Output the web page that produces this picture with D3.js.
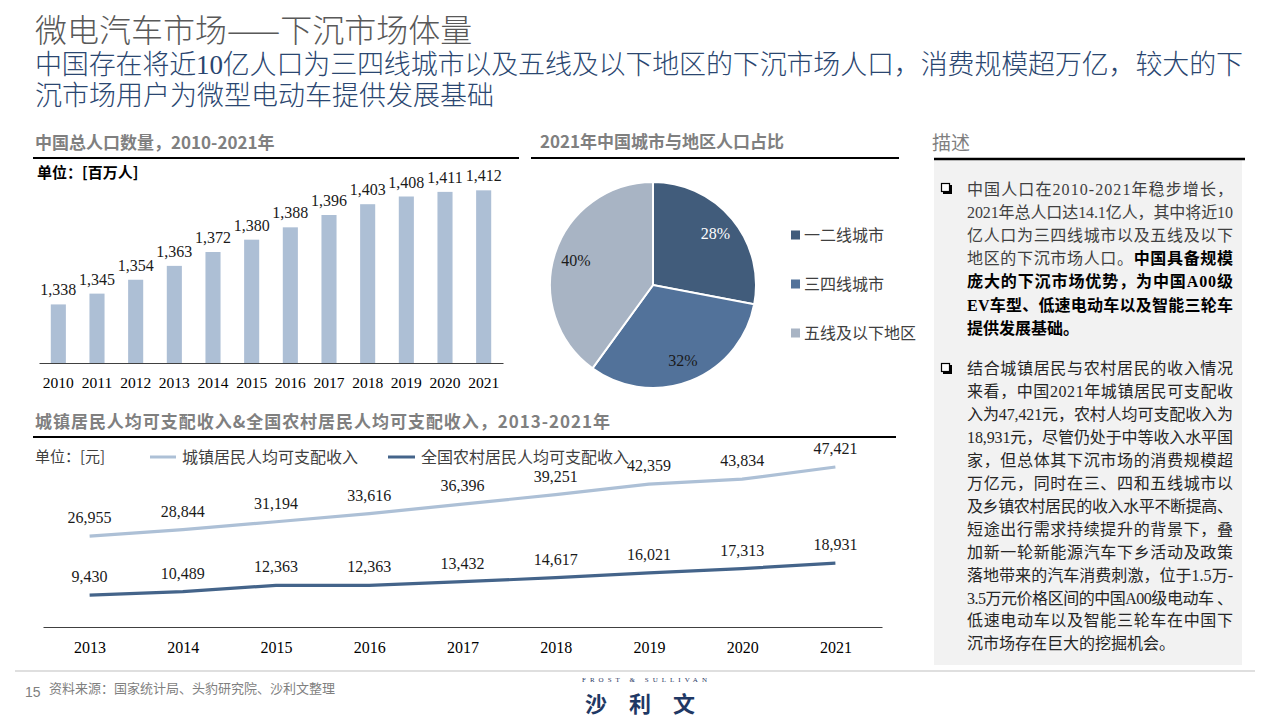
<!DOCTYPE html>
<html><head><meta charset="utf-8">
<script src="https://cdn.jsdelivr.net/npm/d3@7"></script>
<style>
body{margin:0;background:#fff;}
svg{display:block;}
</style></head><body>
<svg id="c" width="1280" height="720"></svg>
<script>
// ---------- data ----------
const popYears = ['2010','2011','2012','2013','2014','2015','2016','2017','2018','2019','2020','2021'];
const popValues = [1338,1345,1354,1363,1372,1380,1388,1396,1403,1408,1411,1412];
const pieLabels = ['一二线城市','三四线城市','五线及以下地区'];
const pieValues = [28,32,40];
const incomeYears = ['2013','2014','2015','2016','2017','2018','2019','2020','2021'];
const urbanIncome = [26955,28844,31194,33616,36396,39251,42359,43834,47421];
const ruralIncome = [9430,10489,12363,12363,13432,14617,16021,17313,18931];
const seriesNames = ['城镇居民人均可支配收入','全国农村居民人均可支配收入'];
const descPara1 = [
  [{t:'中国人口在2010-2021年稳步增长，'}],
  [{t:'2021年总人口达14.1亿人，其中将近10'}],
  [{t:'亿人口为三四线城市以及五线及以下'}],
  [{t:'地区的下沉市场人口。'},{t:'中国具备规模',b:1}],
  [{t:'庞大的下沉市场优势，为中国A00级',b:1}],
  [{t:'EV车型、低速电动车以及智能三轮车',b:1}],
  [{t:'提供发展基础。',b:1}]
];
const descPara2 = [
  '结合城镇居民与农村居民的收入情况',
  '来看，中国2021年城镇居民可支配收',
  '入为47,421元，农村人均可支配收入为',
  '18,931元，尽管仍处于中等收入水平国',
  '家，但总体其下沉市场的消费规模超',
  '万亿元，同时在三、四和五线城市以',
  '及乡镇农村居民的收入水平不断提高、',
  '短途出行需求持续提升的背景下，叠',
  '加新一轮新能源汽车下乡活动及政策',
  '落地带来的汽车消费刺激，位于1.5万-',
  '3.5万元价格区间的中国A00级电动车 、',
  '低速电动车以及智能三轮车在中国下',
  '沉市场存在巨大的挖掘机会。'
];

// ---------- styles ----------
const CJK = "'Noto Sans CJK SC','Noto Sans',sans-serif";
const SERIF = "'Liberation Serif','Noto Sans CJK SC',serif";
const BAR_C = '#ADBFD5';
const PIE_C = ['#415C7B','#52729A','#A8B4C4'];
const URBAN_C = '#ADC0D6', RURAL_C = '#44648A';

const svg = d3.select('#c');

// ---------- title ----------
svg.append('text').attr('x',35).attr('y',42)
  .style('font-family',CJK).style('font-size','32px').style('font-weight','300').attr('fill','#595959')
  .text('微电汽车市场——下沉市场体量');
svg.append('text').attr('x',35).attr('y',74)
  .attr('textLength',1208).attr('lengthAdjust','spacing')
  .style('font-family',SERIF).style('font-size','27px').style('font-weight','300').attr('fill','#2A4670')
  .text('中国存在将近10亿人口为三四线城市以及五线及以下地区的下沉市场人口，消费规模超万亿，较大的下');
svg.append('text').attr('x',35).attr('y',105)
  .style('font-family',SERIF).style('font-size','27px').style('font-weight','300').attr('fill','#2A4670')
  .text('沉市场用户为微型电动车提供发展基础');

function heading(x,y,txt,x1,x2,ly,len){
  const t = svg.append('text').attr('x',x).attr('y',y)
    .style('font-family',CJK).style('font-size','17px').style('font-weight','bold')
    .attr('fill','#808080').text(txt);
  if(len) t.attr('textLength',len).attr('lengthAdjust','spacing');
  svg.append('line').attr('x1',x1).attr('x2',x2).attr('y1',ly).attr('y2',ly)
    .attr('stroke','#000').attr('stroke-width',2);
}

// ---------- bar chart ----------
heading(35,149,'中国总人口数量，2010-2021年',33,519,158);
svg.append('text').attr('x',37).attr('y',178)
  .style('font-family',CJK).style('font-size','15px').style('font-weight','bold')
  .attr('fill','#000').text('单位：[百万人]');

const xBar = d3.scaleBand().domain(popYears).range([39,503]).paddingInner(0.61).paddingOuter(0.305);
const yBar = d3.scaleLinear().domain([1300,1420]).range([363,178]);
const gBar = svg.append('g');
gBar.selectAll('rect').data(popYears).join('rect')
  .attr('x',d=>xBar(d)).attr('width',xBar.bandwidth())
  .attr('y',(d,i)=>yBar(popValues[i])).attr('height',(d,i)=>yBar(1300)-yBar(popValues[i]))
  .attr('fill',BAR_C);
gBar.selectAll('text.v').data(popYears).join('text').attr('class','v')
  .attr('x',d=>xBar(d)+xBar.bandwidth()/2).attr('y',(d,i)=>yBar(popValues[i])-9)
  .attr('text-anchor','middle').style('font-family',SERIF).style('font-size','16px').attr('fill','#1a1a1a')
  .text((d,i)=>d3.format(',')(popValues[i]));
const axB = svg.append('g').attr('transform','translate(0,363)')
  .call(d3.axisBottom(xBar).tickSize(0).tickSizeOuter(0).tickPadding(14));
axB.select('.domain').attr('stroke','#404040').attr('stroke-width',1.2);
axB.selectAll('text').style('font-family',SERIF).style('font-size','15.5px').attr('fill','#000');

// ---------- pie ----------
heading(540,148,'2021年中国城市与地区人口占比',531,899,158);
const pieG = svg.append('g').attr('transform','translate(653,285)');
const arcs = d3.pie().sort(null).value(d=>d)(pieValues);
const arc = d3.arc().innerRadius(0).outerRadius(103);
const labelArc = d3.arc().innerRadius(81).outerRadius(81);
pieG.selectAll('path').data(arcs).join('path')
  .attr('d',arc).attr('fill',(d,i)=>PIE_C[i]).attr('stroke','#fff').attr('stroke-width',2);
pieG.selectAll('text').data(arcs).join('text')
  .attr('transform',d=>`translate(${labelArc.centroid(d)})`)
  .attr('text-anchor','middle').attr('dy','0.35em')
  .style('font-family',SERIF).style('font-size','16px')
  .attr('fill',(d,i)=>i===0?'#fff':'#1a1a1a')
  .text(d=>d.data+'%');
const leg = svg.append('g').selectAll('g').data(pieLabels).join('g')
  .attr('transform',(d,i)=>`translate(791,${235+i*49})`);
leg.append('rect').attr('x',0).attr('y',-4.5).attr('width',9).attr('height',9).attr('fill',(d,i)=>PIE_C[i]);
leg.append('text').attr('x',13).attr('dy','0.35em')
  .style('font-family',CJK).style('font-size','16px').attr('fill','#404040').text(d=>d);

// ---------- description ----------
svg.append('text').attr('x',932).attr('y',150)
  .style('font-family',CJK).style('font-size','19px').attr('fill','#7f7f7f').text('描述');
svg.append('rect').attr('x',934).attr('y',160).attr('width',308).attr('height',505).attr('fill','#F2F2F2');
svg.append('line').attr('x1',934).attr('x2',1245).attr('y1',159).attr('y2',159)
  .attr('stroke','#000').attr('stroke-width',2.5);
function bullet(cy){
  svg.append('rect').attr('x',943).attr('y',cy-3).attr('width',9).attr('height',9).attr('fill','#000');
  svg.append('rect').attr('x',941.5).attr('y',cy-4.5).attr('width',8).attr('height',8)
    .attr('fill','#fff').attr('stroke','#000').attr('stroke-width',1.2);
}
bullet(188);
descPara1.forEach((line,i)=>{
  const t = svg.append('text').attr('x',967).attr('y',195+i*23.1)
    .style('font-family',SERIF).style('font-size','16px');
  if(i<descPara1.length-1) t.attr('textLength',266).attr('lengthAdjust','spacing');
  line.forEach(s=>{
    t.append('tspan').text(s.t)
      .style('font-weight',s.b?'bold':'normal')
      .attr('fill',s.b?'#000':'#404040');
  });
});
bullet(368);
descPara2.forEach((line,i)=>{
  const t = svg.append('text').attr('x',967).attr('y',374+i*22.95)
    .style('font-family',SERIF).style('font-size','16px').attr('fill','#262626').text(line);
  if(i<descPara2.length-1) t.attr('textLength',266).attr('lengthAdjust','spacing');
});

// ---------- line chart ----------
heading(35,428,'城镇居民人均可支配收入&全国农村居民人均可支配收入，2013-2021年',33,896,437,575);
svg.append('text').attr('x',35).attr('y',457).attr('dy','0.35em')
  .style('font-family',CJK).style('font-size','15px').attr('fill','#404040').text('单位：[元]');
[[150,176,182,URBAN_C],[388,415,421,RURAL_C]].forEach((p,i)=>{
  svg.append('line').attr('x1',p[0]).attr('x2',p[1]).attr('y1',457).attr('y2',457)
    .attr('stroke',p[3]).attr('stroke-width',3);
  svg.append('text').attr('x',p[2]).attr('y',457).attr('dy','0.35em')
    .style('font-family',CJK).style('font-size','16px').attr('fill','#404040').text(seriesNames[i]);
});
const xLine = d3.scalePoint().domain(incomeYears).range([43,882]).padding(0.5);
const yLine = d3.scaleLinear().domain([0,50000]).range([627,458.3]);
const lineGen = d3.line().x((d,i)=>xLine(incomeYears[i])).y(d=>yLine(d));
[[urbanIncome,URBAN_C],[ruralIncome,RURAL_C]].forEach(([vals,col])=>{
  svg.append('path').datum(vals).attr('d',lineGen)
    .attr('fill','none').attr('stroke',col).attr('stroke-width',3.2).attr('stroke-linejoin','round');
  svg.append('g').selectAll('text').data(vals).join('text')
    .attr('x',(d,i)=>xLine(incomeYears[i])).attr('y',d=>yLine(d)-13)
    .attr('text-anchor','middle').style('font-family',SERIF).style('font-size','16px').attr('fill','#1a1a1a')
    .text(d=>d3.format(',')(d));
});
const axL = svg.append('g').attr('transform','translate(0,627)')
  .call(d3.axisBottom(xLine).tickSize(0).tickSizeOuter(0).tickPadding(15));
axL.select('.domain').attr('stroke','#404040').attr('stroke-width',1.2);
axL.selectAll('text').style('font-family',SERIF).style('font-size','16px').attr('fill','#000');

// ---------- footer ----------
svg.append('line').attr('x1',15).attr('x2',1255).attr('y1',671).attr('y2',671)
  .attr('stroke','#BFBFBF').attr('stroke-width',1);
svg.append('text').attr('x',25).attr('y',697)
  .style('font-family',"'Liberation Sans',sans-serif").style('font-size','14px').attr('fill','#7f7f7f').text('15');
svg.append('text').attr('x',49).attr('y',693)
  .style('font-family',CJK).style('font-size','13px').attr('fill','#7f7f7f').text('资料来源：国家统计局、头豹研究院、沙利文整理');
svg.append('text').attr('x',582).attr('y',682).attr('textLength',125).attr('lengthAdjust','spacing')
  .style('font-family',SERIF).style('font-size','7px').attr('fill','#1F3864').text('FROST & SULLIVAN');
svg.append('text').attr('x',585).attr('y',712).attr('textLength',110).attr('lengthAdjust','spacing')
  .style('font-family',CJK).style('font-size','22px').style('font-weight','bold').attr('fill','#1F3864').text('沙利文');
</script>
</body></html>
